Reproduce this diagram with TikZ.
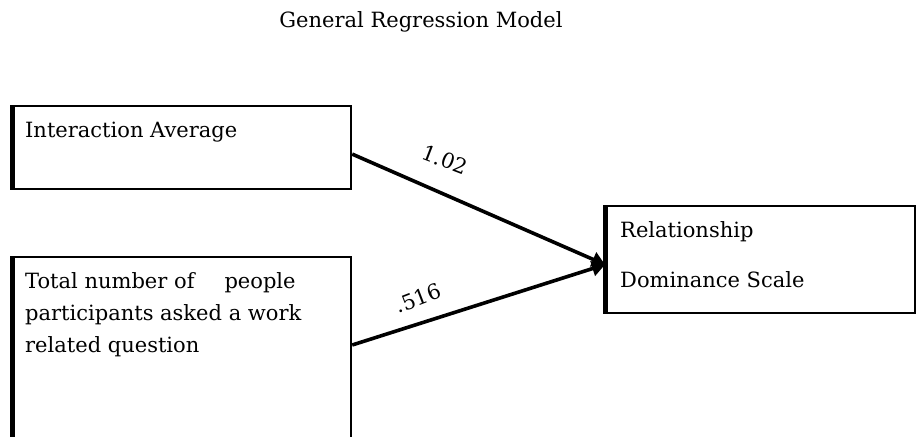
\documentclass[tikz,border=0pt]{standalone}
\usepackage{fontspec}
\setmainfont{DejaVu Serif}
\usetikzlibrary{arrows.meta}
\begin{document}
\begin{tikzpicture}[x=1pt,y=-1pt,
  txt/.style={inner sep=0pt,anchor=base west,font=\fontsize{21}{25}\selectfont},
  lbl/.style={inner sep=0pt,font=\fontsize{21}{25}\selectfont},
  frame/.style={draw=black,line width=2.2pt,inner sep=0pt,anchor=north west},
  edgeleft/.style={line width=5pt},
  link/.style={line width=3.6pt,-{Triangle[length=13pt,width=15pt]}}]
\useasboundingbox (0,0) rectangle (917,436);

% title
\node[txt,anchor=base] (title) at (421,28) {General Regression Model};

% predictor boxes
\node[frame,minimum width=338pt,minimum height=83pt] (b1) at (12,105) {};
\draw[edgeleft] (b1.north west) -- (b1.south west);
\node[txt] (t1) at (25,137) {Interaction Average};

\node[frame,minimum width=338pt,minimum height=186pt] (b2) at (12,256) {};
\draw[edgeleft] (b2.north west) -- (b2.south west);
\node[txt] (t2a) at (25,288) {Total number of\hspace{30pt}people};
\node[txt] (t2b) at (25,320) {participants asked a work};
\node[txt] (t2c) at (25,352) {related question};

% outcome box
\node[frame,minimum width=309pt,minimum height=107pt] (b3) at (605,205) {};
\draw[edgeleft] (b3.north west) -- (b3.south west);
\node[txt] (t3a) at (620,237) {Relationship};
\node[txt] (t3b) at (620,287) {Dominance Scale};

% paths with coefficients
\draw[link] ([yshift=-6.5pt]b1.east) -- ([yshift=-5pt]b3.west);
\draw[link] (b2.east |- 0,345) -- ([yshift=-5pt]b3.west);
\node[lbl,rotate=-21] (c1) at (445,160) {1.02};
\node[lbl,rotate=21] (c2) at (418,298) {.516};
\end{tikzpicture}
\end{document}
